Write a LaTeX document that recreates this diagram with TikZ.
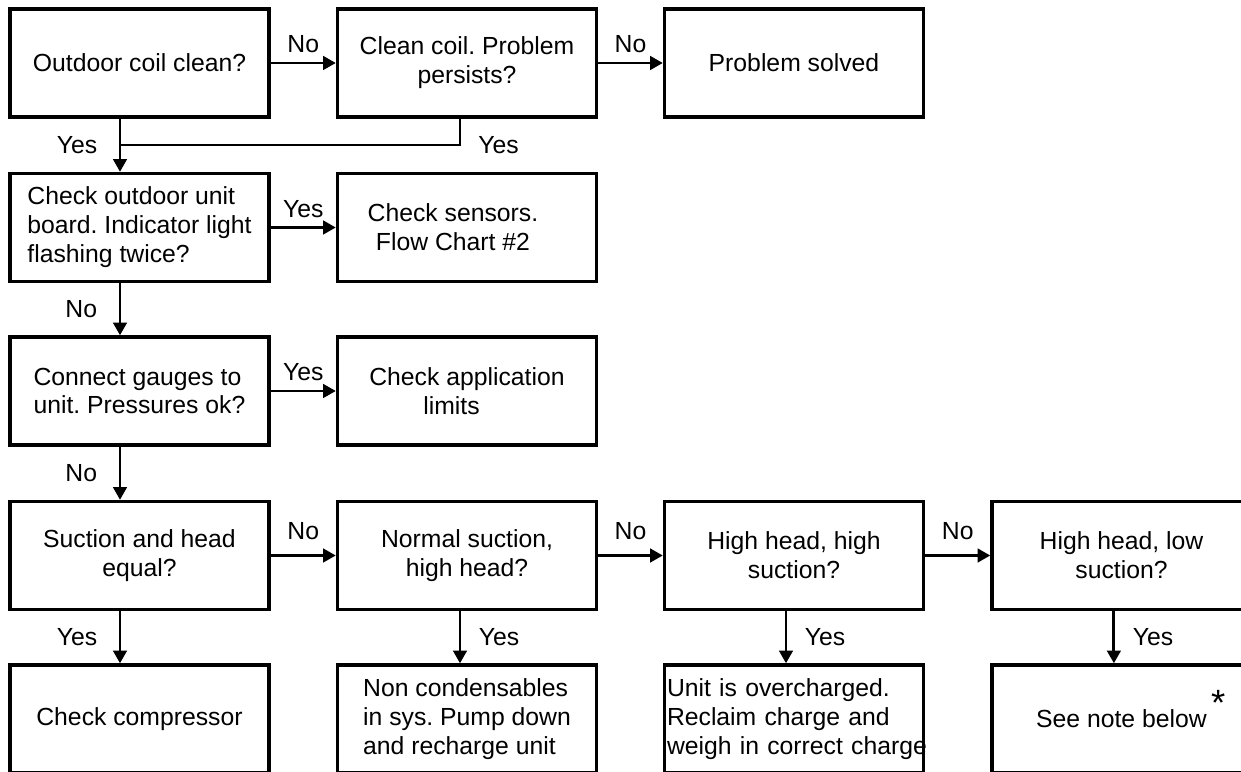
\documentclass[tikz,border=0pt]{standalone}
\usepackage{fontspec}
\setmainfont{Liberation Sans}
\usetikzlibrary{arrows.meta, positioning, calc}
\definecolor{ink}{HTML}{000000}
\tikzset{
  font=\fontsize{17.6}{20.6}\selectfont\frenchspacing,
  stepbox/.style={rectangle, draw=ink, line width=2.4pt, fill=white, text=ink, align=center,
                  minimum width=6.475cm, minimum height=2.7cm, inner sep=4pt},
  flow/.style={-{Triangle[length=0.32cm, width=0.34cm]}, draw=ink, line width=2.1pt},
  merge/.style={draw=ink, line width=1.4pt},
  lbl/.style={text=ink, inner sep=1pt},
}

\begin{document}
\begin{tikzpicture}
  % --- page frame (the chart runs off the right and bottom edges) ---
  \path[use as bounding box, fill=white] (0,0) rectangle (31.025,19.275);
  \clip (0,0) rectangle (31.025,19.275);

  % --- boxes, one row per question ---
  \node[stepbox] (coil)    at (3.4875,17.7)    {Outdoor coil clean?};
  \node[stepbox] (clean)   at (11.675,17.7)    {Clean coil. Problem\\ persists?};
  \node[stepbox] (solved)  at (19.85,17.7)     {Problem solved};
  \node[stepbox, align=left] (board) at (3.4875,13.5875) {Check outdoor unit\\ board. Indicator light\\ flashing twice?};
  \node[stepbox] (sensors) at (11.675,13.5875) {Check sensors.\hspace*{20pt}\\ Flow Chart \#2\hspace*{20pt}};
  \node[stepbox, align=left] (gauges) at (3.4875,9.5) {Connect gauges to\\ unit. Pressures ok?};
  \node[stepbox] (limits)  at (11.675,9.5)     {Check application\\ limits\hspace*{22pt}};
  \node[stepbox] (equal)   at (3.4875,5.3875)  {Suction and head\\ equal?};
  \node[stepbox] (normal)  at (11.675,5.3875)  {Normal suction,\\ high head?};
  \node[stepbox] (hihi)    at (19.85,5.3875)   {High head, high\\ suction?};
  \node[stepbox] (hilo)    at (28.0375,5.3875) {High head, low\\ suction?};
  \node[stepbox] (comp)    at (3.4875,1.3)     {Check compressor};
  \node[stepbox, align=left] (noncond) at (11.675,1.3) {Non condensables\\ in sys. Pump down\\ and recharge unit};
  \node[stepbox, align=left, inner xsep=1pt, text width=6.35cm] (over) at (19.85,1.3)
    {\mbox{Unit is overcharged.}\\ \mbox{Reclaim charge and}\\ \mbox{weigh in correct charge}};
  \node[stepbox] (note)    at (28.0375,1.3)
    {See note below\rlap{\hspace{3pt}\smash{\raisebox{8.5pt}{\fontsize{26}{26}\selectfont *}}}};

  % --- row 1 ---
  \draw[flow] (coil) -- node[lbl, above=5pt] {No} (clean);
  \draw[flow] (clean) -- node[lbl, above=5pt] {No} (solved);
  \coordinate (mrg) at (3.0,15.65);
  \draw[merge] ([xshift=-0.175cm]clean.south) |- node[lbl, pos=0.5, right=0.4cm] {Yes} (mrg);
  \draw[flow] ([xshift=-0.4875cm]coil.south) -- node[lbl, left=0.5cm] {Yes} ([xshift=-0.4875cm]board.north);

  % --- row 2 ---
  \draw[flow] (board) -- node[lbl, above=5pt] {Yes} (sensors);
  \draw[flow] ([xshift=-0.4875cm]board.south) -- node[lbl, left=0.5cm] {No} ([xshift=-0.4875cm]gauges.north);

  % --- row 3 ---
  \draw[flow] (gauges) -- node[lbl, above=5pt] {Yes} (limits);
  \draw[flow] ([xshift=-0.4875cm]gauges.south) -- node[lbl, left=0.5cm] {No} ([xshift=-0.4875cm]equal.north);

  % --- row 4: pressure checks ---
  \draw[flow] (equal) -- node[lbl, above=9pt] {No} (normal);
  \draw[flow] (normal) -- node[lbl, above=9pt] {No} (hihi);
  \draw[flow] (hihi) -- node[lbl, above=9pt] {No} (hilo);
  \draw[flow] ([xshift=-0.4875cm]equal.south) -- node[lbl, left=0.5cm] {Yes} ([xshift=-0.4875cm]comp.north);
  \draw[flow] ([xshift=-0.175cm]normal.south) -- node[lbl, right=0.4cm] {Yes} ([xshift=-0.175cm]noncond.north);
  \draw[flow] ([xshift=-0.2cm]hihi.south) -- node[lbl, right=0.4cm] {Yes} ([xshift=-0.2cm]over.north);
  \draw[flow] ([xshift=-0.19cm]hilo.south) -- node[lbl, right=0.4cm] {Yes} ([xshift=-0.19cm]note.north);
\end{tikzpicture}
\end{document}
